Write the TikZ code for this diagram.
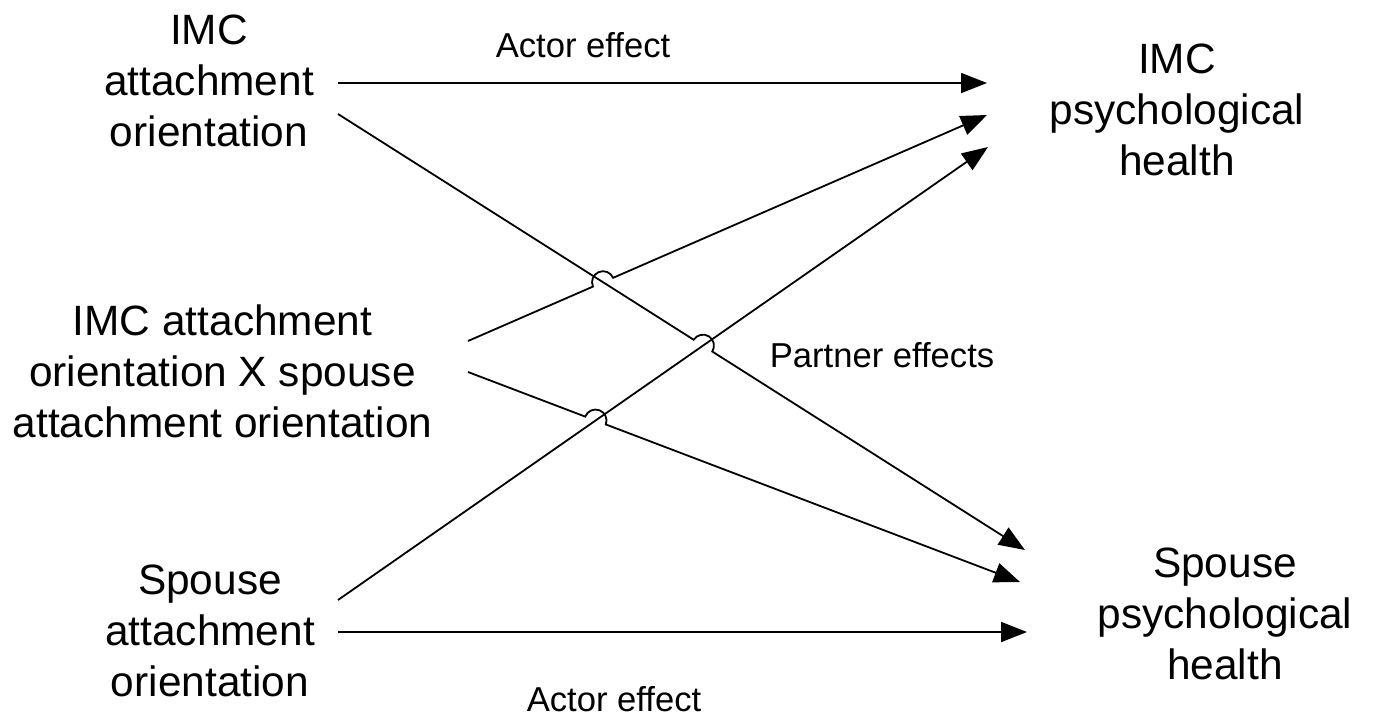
\documentclass[tikz,border=0pt]{standalone}
\usepackage{fontspec}
\setmainfont{Liberation Sans}
\usetikzlibrary{arrows.meta,calc,intersections}
\begin{document}
\begin{tikzpicture}[x=0.5pt,y=-0.5pt,
  lbl/.style={font=\fontsize{21.2}{25.5}\selectfont, align=center, inner sep=0pt},
  eff/.style={font=\fontsize{17.3}{21}\selectfont, inner sep=0pt, anchor=base},
  arr/.style={line width=0.9pt, -{Triangle[length=13pt,width=10pt]}}]
\useasboundingbox (0,0) rectangle (1376,719);

% text blocks
\node[lbl] (imcatt) at (209,81) {IMC\\attachment\\orientation};
\node[lbl] (inter) at (222.5,371.5) {IMC attachment\\orientation X spouse\\attachment orientation};
\node[lbl] (spatt) at (210,631) {Spouse\\attachment\\orientation};
\node[lbl] (imch) at (1177,109.5) {IMC\\psychological\\health};
\node[lbl] (sph) at (1225,614) {Spouse\\psychological\\health};

\node[eff] (acttop) at (583,57) {Actor effect};
\node[eff] (actbot) at (614,711) {Actor effect};
\node[eff] (partner) at (882,367) {Partner effects};

% connector ends
\coordinate (s1) at (338,83);   \coordinate (e1) at (987,83);
\coordinate (s2) at (338,114);  \coordinate (e2) at (1025,550);
\coordinate (s3) at (468,341);  \coordinate (e3) at (987,115);
\coordinate (s4) at (338,600);  \coordinate (e4) at (988,147);
\coordinate (s5) at (468,372);  \coordinate (e5) at (1020,582);
\coordinate (s6) at (338,632);  \coordinate (e6) at (1027,632);

\path[name path=p2] (s2) -- (e2);
\path[name path=p3] (s3) -- (e3);
\path[name path=p4] (s4) -- (e4);
\path[name path=p5] (s5) -- (e5);
\path[name intersections={of=p2 and p3, by=x23}];
\path[name intersections={of=p2 and p4, by=x24}];
\path[name intersections={of=p5 and p4, by=x54}];

% actor effects
\draw[arr] (s1) -- (e1);
\draw[arr] (s6) -- (e6);

% partner effects and interaction paths
\draw[arr] (s4) -- (e4);
\draw[arr] let \p1=($(e2)-(s2)$), \n1={atan2(\y1,\x1)} in
  (s2) -- ($(x24)!5.5pt!(s2)$) arc[start angle=\n1+180, end angle=\n1, radius=5.5pt] -- (e2);
\draw[arr] let \p1=($(e3)-(s3)$), \n1={atan2(\y1,\x1)} in
  (s3) -- ($(x23)!5.5pt!(s3)$) arc[start angle=\n1+180, end angle=\n1, radius=5.5pt] -- (e3);
\draw[arr] let \p1=($(e5)-(s5)$), \n1={atan2(\y1,\x1)} in
  (s5) -- ($(x54)!5.5pt!(s5)$) arc[start angle=\n1+180, end angle=\n1, radius=5.5pt] -- (e5);
\end{tikzpicture}
\end{document}
